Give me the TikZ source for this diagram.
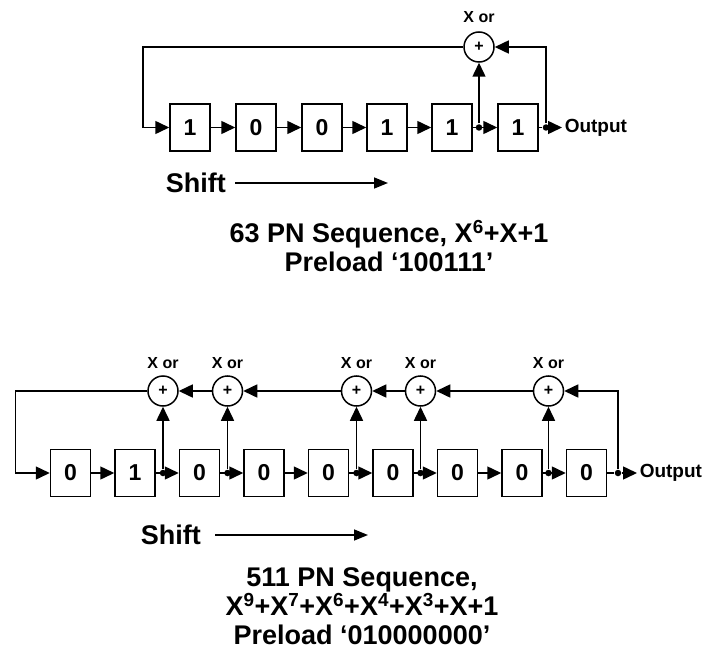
\documentclass[tikz,border=0pt]{standalone}
\usepackage{fontspec}
\setmainfont{Liberation Sans}
\usetikzlibrary{arrows.meta}

\begin{document}
\begin{tikzpicture}[x=1pt,y=-1pt,line width=1.5pt,
	reg/.style={draw, minimum width=40pt, minimum height=47pt, inner sep=0pt, font=\fontsize{23}{24}\selectfont\bfseries},
	xorgate/.style={draw, circle, minimum size=30pt, inner sep=0pt, font=\fontsize{16}{16}\selectfont\bfseries},
	tap/.style={circle, fill, inner sep=0pt, minimum size=6.5pt},
	flow/.style={-{Triangle[length=14pt,width=13pt]}},
	lbl/.style={font=\fontsize{16}{17}\selectfont\bfseries, inner sep=0pt},
	outlbl/.style={anchor=west, inner sep=2pt, font=\fontsize{19}{20}\selectfont\bfseries},
	big/.style={font=\fontsize{27}{29}\selectfont\bfseries, align=center},
	shiftarrow/.style={-{Triangle[length=14pt,width=11pt]}}]

\useasboundingbox (0,0) rectangle (704,658);

%%%% top: 63 PN sequence
%registers
\node[reg] (a1) at (190,127.5) {1};
\node[reg] (a2) at (256,127.5) {0};
\node[reg] (a3) at (322,127.5) {0};
\node[reg] (a4) at (387,127.5) {1};
\node[reg] (a5) at (452,127.5) {1};
\node[reg] (a6) at (518,127.5) {1};

%xor gate and taps
\node[xorgate] (ax) at (479,47) {+};
\node[lbl] (axl) at (479,17) {X or};
\node[tap] (at5) at (479,127.5) {};
\node[tap] (ato) at (546,127.5) {};
\node[outlbl] (aout) at (562,127.5) {Output};
\coordinate (aloop) at (143,127.5);		%bottom left corner

%shift chain
\draw[flow] (ax) -| (aloop) -- (a1);
\draw[flow] (a1) -- (a2);
\draw[flow] (a2) -- (a3);
\draw[flow] (a3) -- (a4);
\draw[flow] (a4) -- (a5);
\draw[flow] (a5) -- (a6);
\draw[flow] (at5) -- (ax);
\draw (a6) -- (ato);
\draw[flow] (ato) -- (aout);
\draw[flow] (ato) |- (ax);

%labels
\node[big, anchor=west, inner xsep=0pt] (ash) at (165,183) {Shift};
\coordinate (ashe) at (388,183);
\draw[shiftarrow, shorten <=9pt] (ash) -- (ashe);
\node[big] (atitle) at (389,246) {63 PN Sequence, X\textsuperscript{6}+X+1\\Preload ‘100111’};

%%%% bottom: 511 PN sequence
%registers
\node[reg] (b1) at (70.5,473) {0};
\node[reg] (b2) at (135,473) {1};
\node[reg] (b3) at (199.5,473) {0};
\node[reg] (b4) at (264,473) {0};
\node[reg] (b5) at (328.5,473) {0};
\node[reg] (b6) at (393,473) {0};
\node[reg] (b7) at (457.5,473) {0};
\node[reg] (b8) at (522,473) {0};
\node[reg] (b9) at (586.5,473) {0};

%xor gates
\node[xorgate] (bx1) at (163,391) {+};
\node[xorgate] (bx2) at (227.5,391) {+};
\node[xorgate] (bx3) at (356.5,391) {+};
\node[xorgate] (bx4) at (420.5,391) {+};
\node[xorgate] (bx5) at (548.5,391) {+};
\node[lbl] (bxl1) at (163,363) {X or};
\node[lbl] (bxl2) at (227.5,363) {X or};
\node[lbl] (bxl3) at (356.5,363) {X or};
\node[lbl] (bxl4) at (420.5,363) {X or};
\node[lbl] (bxl5) at (548.5,363) {X or};

%taps
\node[tap] (bt2) at (163,473) {};
\node[tap] (bt3) at (227.5,473) {};
\node[tap] (bt5) at (356.5,473) {};
\node[tap] (bt6) at (420.5,473) {};
\node[tap] (bt8) at (548.5,473) {};
\node[tap] (bto) at (618,473) {};
\node[outlbl] (bout) at (637,473) {Output};
\coordinate (bloop) at (15.7,473);		%bottom left corner

%shift chain
\draw[flow] (bx1) -| (bloop) -- (b1);
\draw[flow] (b1) -- (b2);
\draw[flow] (b2) -- (b3);
\draw[flow] (b3) -- (b4);
\draw[flow] (b4) -- (b5);
\draw[flow] (b5) -- (b6);
\draw[flow] (b6) -- (b7);
\draw[flow] (b7) -- (b8);
\draw[flow] (b8) -- (b9);
\draw (b9) -- (bto);
\draw[flow] (bto) -- (bout);

%feedback through the xor gates
\draw[flow] (bto) |- (bx5);
\draw[flow] (bx5) -- (bx4);
\draw[flow] (bx4) -- (bx3);
\draw[flow] (bx3) -- (bx2);
\draw[flow] (bx2) -- (bx1);
\draw[flow] (bt2) -- (bx1);
\draw[flow] (bt3) -- (bx2);
\draw[flow] (bt5) -- (bx3);
\draw[flow] (bt6) -- (bx4);
\draw[flow] (bt8) -- (bx5);

%labels
\node[big, anchor=west, inner xsep=0pt] (bsh) at (140,535) {Shift};
\coordinate (bshe) at (368,535);
\draw[shiftarrow, shorten <=14pt] (bsh) -- (bshe);
\node[big] (btitle) at (362,606) {511 PN Sequence,\\X\textsuperscript{9}+X\textsuperscript{7}+X\textsuperscript{6}+X\textsuperscript{4}+X\textsuperscript{3}+X+1\\Preload ‘010000000’};

\end{tikzpicture}
\end{document}
